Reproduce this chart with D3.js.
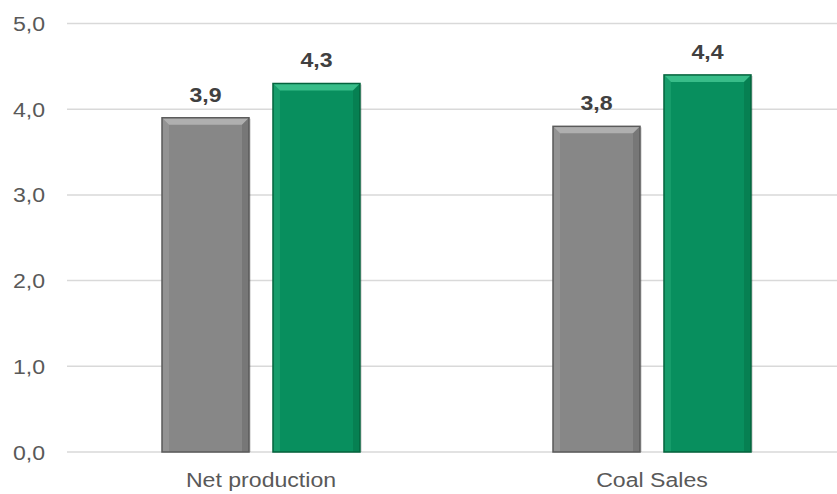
<!DOCTYPE html>
<html>
<head>
<meta charset="utf-8">
<script src="https://cdn.jsdelivr.net/npm/d3@7"></script>
<style>
  body { margin: 0; background: #fff; }
  svg { display: block; font-family: "Liberation Sans", Arial, sans-serif; }
</style>
</head>
<body>
<div id="chart"></div>
<script>
const categories = ['Net production', 'Coal Sales'];
const series = ['prev', 'curr'];
const prevValues = [3.9, 3.8];
const currValues = [4.3, 4.4];
const yTicks = [0, 1, 2, 3, 4, 5];

const width = 837;
const height = 494;
const margin = { top: 23.5, bottom: 42, left: 67 };

const colors = { prev: '#878787', curr: '#088f5e' };
const light = { prev: '#b9b9b9', curr: '#45c893' };
const dark = { prev: '#5a5a5a', curr: '#04633d' };

const stretch = 1.1; // text in the picture is slightly wide
const fmt = v => d3.format('.1f')(v).replace('.', ',');

const svg = d3.select('#chart')
  .append('svg')
  .attr('width', width)
  .attr('height', height);

const y = d3.scaleLinear()
  .domain([0, 5])
  .range([height - margin.bottom, margin.top]);

// category bands run a little past the right edge, like the original
const x0 = d3.scaleBand()
  .domain(categories)
  .range([65.5, 847.5])
  .padding(0);

const groupWidth = 198;
const x1 = d3.scaleBand()
  .domain(series)
  .range([0, groupWidth])
  .paddingInner(0.216);

// Gridlines
svg.append('g')
  .selectAll('line')
  .data(yTicks)
  .enter()
  .append('line')
  .attr('x1', margin.left)
  .attr('x2', width)
  .attr('y1', d => y(d))
  .attr('y2', d => y(d))
  .attr('stroke', '#d9d9d9')
  .attr('stroke-width', 1.5);

// Y tick labels
svg.append('g')
  .selectAll('g')
  .data(yTicks)
  .enter()
  .append('g')
  .attr('transform', d => `translate(45, ${y(d) + 7.5}) scale(${stretch}, 1)`)
  .append('text')
  .attr('text-anchor', 'end')
  .attr('font-size', 21)
  .attr('fill', '#595959')
  .text(fmt);

// Bars
const rows = [];
categories.forEach((c, i) => {
  rows.push({ cat: c, key: 'prev', value: prevValues[i] });
  rows.push({ cat: c, key: 'curr', value: currValues[i] });
});

const bev = 7;
const bar = svg.append('g')
  .selectAll('g')
  .data(rows)
  .enter()
  .append('g')
  .attr('transform', d => {
    const gx = x0(d.cat) + (x0.bandwidth() - groupWidth) / 2 + x1(d.key);
    return `translate(${gx}, ${y(d.value)})`;
  });

// soft shadow on the right
bar.append('rect')
  .attr('x', 2)
  .attr('y', 1)
  .attr('width', x1.bandwidth())
  .attr('height', d => y(0) - y(d.value) - 1)
  .attr('fill', '#000')
  .attr('opacity', 0.12);

bar.append('rect')
  .attr('width', x1.bandwidth())
  .attr('height', d => y(0) - y(d.value))
  .attr('fill', d => colors[d.key]);

// bevel: top
bar.append('path')
  .attr('d', d => {
    const w = x1.bandwidth();
    return `M0,0 L${w},0 L${w - bev},${bev} L${bev},${bev} Z`;
  })
  .attr('fill', d => light[d.key])
  .attr('opacity', 0.8);

// bevel: left
bar.append('path')
  .attr('d', d => {
    const h = y(0) - y(d.value);
    return `M0,0 L${bev},${bev} L${bev},${h} L0,${h} Z`;
  })
  .attr('fill', d => light[d.key])
  .attr('opacity', 0.25);

// bevel: right
bar.append('path')
  .attr('d', d => {
    const w = x1.bandwidth();
    const h = y(0) - y(d.value);
    return `M${w},0 L${w - bev},${bev} L${w - bev},${h} L${w},${h} Z`;
  })
  .attr('fill', d => dark[d.key])
  .attr('opacity', 0.35);

bar.append('rect')
  .attr('width', x1.bandwidth())
  .attr('height', d => y(0) - y(d.value))
  .attr('fill', 'none')
  .attr('stroke', d => dark[d.key])
  .attr('stroke-width', 1.5);

// Value labels
bar.append('g')
  .attr('transform', `translate(${x1.bandwidth() / 2}, -16) scale(${stretch}, 1)`)
  .append('text')
  .attr('text-anchor', 'middle')
  .attr('font-size', 21)
  .attr('font-weight', 'bold')
  .attr('fill', '#404040')
  .text(d => fmt(d.value));

// Category labels
svg.append('g')
  .selectAll('g')
  .data(categories)
  .enter()
  .append('g')
  .attr('transform', d => `translate(${x0(d) + x0.bandwidth() / 2}, 486.5) scale(${stretch}, 1)`)
  .append('text')
  .attr('text-anchor', 'middle')
  .attr('font-size', 21)
  .attr('fill', '#595959')
  .text(d => d);
</script>
</body>
</html>
